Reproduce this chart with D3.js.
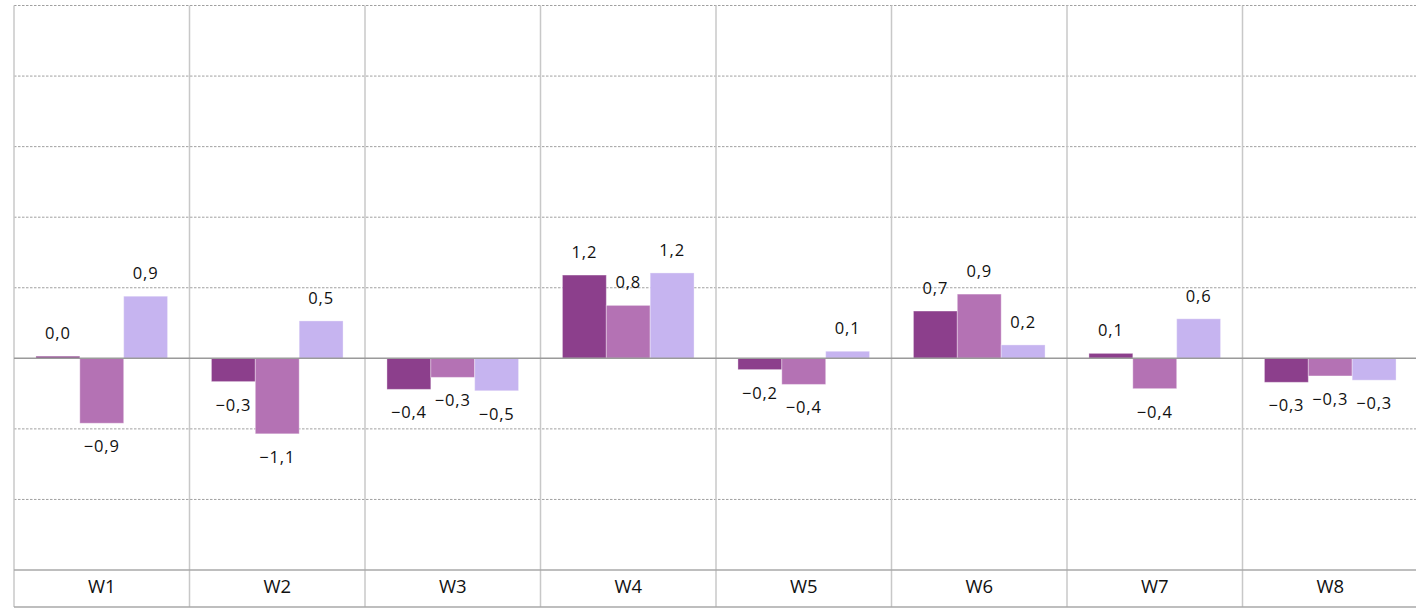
<!DOCTYPE html>
<html>
<head>
<meta charset="utf-8">
<script src="https://cdn.jsdelivr.net/npm/d3@7"></script>
<style>
  body { margin: 0; background: #fff; }
  svg { display: block; }
</style>
</head>
<body>
<svg id="chart" width="1416" height="609"></svg>
<script>
// Weekly deviations for three series
const weeks = ["W1", "W2", "W3", "W4", "W5", "W6", "W7", "W8"];
const seriesNames = ["A", "B", "C"];
const seriesA = [0.03, -0.33, -0.44, 1.18, -0.16, 0.67, 0.07, -0.34];
const seriesB = [-0.92, -1.07, -0.27, 0.75, -0.37, 0.91, -0.43, -0.25];
const seriesC = [0.88, 0.53, -0.46, 1.21, 0.10, 0.19, 0.56, -0.31];
const yTicks = [-3, -2, -1, 0, 1, 2, 3, 4, 5];
const colors = ["#8c3f8c", "#b472b4", "#c6b4f0"];

const W = 1416, H = 609;
const plotLeft = 14, plotRight = 1418, plotTop = 5.5, plotBottom = 570, tableBottom = 607;

const svg = d3.select("#chart");

const x = d3.scaleBand().domain(weeks).range([plotLeft, plotRight]).paddingInner(0).paddingOuter(0);
const xSub = d3.scaleBand().domain(seriesNames)
  .range([x.bandwidth() * 0.125, x.bandwidth() * 0.875]).padding(0);
const y = d3.scaleLinear().domain([yTicks[0], yTicks[yTicks.length - 1]]).range([plotBottom, plotTop]);

const rows = weeks.map((w, i) => ({
  week: w,
  values: [seriesA[i], seriesB[i], seriesC[i]].map((v, k) => ({ key: seriesNames[k], value: v, color: colors[k] }))
}));

// Horizontal gridlines (dashed), except the zero line and the table edge
svg.append("g").selectAll("line")
  .data(yTicks.filter(t => t !== 0 && t !== yTicks[0]))
  .join("line")
  .attr("x1", plotLeft).attr("x2", W)
  .attr("y1", d => y(d)).attr("y2", d => y(d))
  .attr("stroke", "#a0a0a0").attr("stroke-width", 1)
  .attr("stroke-dasharray", "2.5,1.5");

// Vertical category separators, running through the label row
svg.append("g").selectAll("line")
  .data(weeks.map(w => x(w)))
  .join("line")
  .attr("x1", d => d).attr("x2", d => d)
  .attr("y1", plotTop).attr("y2", tableBottom)
  .attr("stroke", "#c8c8c8").attr("stroke-width", 1.5);

// Bars
const groups = svg.append("g").selectAll("g")
  .data(rows).join("g")
  .attr("transform", d => `translate(${x(d.week)},0)`);

groups.selectAll("rect")
  .data(d => d.values).join("rect")
  .attr("x", d => xSub(d.key))
  .attr("width", xSub.bandwidth())
  .attr("y", d => Math.min(y(d.value), y(0)))
  .attr("height", d => Math.abs(y(d.value) - y(0)))
  .attr("fill", d => d.color)
  .attr("stroke", "rgba(255,255,255,0.35)")
  .attr("stroke-width", 1);

// Zero line
svg.append("line")
  .attr("x1", plotLeft).attr("x2", W)
  .attr("y1", y(0)).attr("y2", y(0))
  .attr("stroke", "#9a9a9a").attr("stroke-width", 1.5);

// Table row lines
svg.append("line")
  .attr("x1", plotLeft).attr("x2", W)
  .attr("y1", plotBottom).attr("y2", plotBottom)
  .attr("stroke", "#a8a8a8").attr("stroke-width", 1.5);
svg.append("line")
  .attr("x1", plotLeft).attr("x2", W)
  .attr("y1", tableBottom).attr("y2", tableBottom)
  .attr("stroke", "#a8a8a8").attr("stroke-width", 1.5);

// Value labels
const fmt = v => d3.format(".1f")(v).replace(".", ",");
groups.selectAll("text")
  .data(d => d.values).join("text")
  .attr("x", d => xSub(d.key) + xSub.bandwidth() / 2)
  .attr("y", d => d.value >= 0 ? y(d.value) - 17 : y(d.value) + 29)
  .attr("text-anchor", "middle")
  .attr("font-family", "'Open Sans', sans-serif")
  .attr("font-size", 16.5)
  .attr("letter-spacing", 0.8)
  .attr("fill", "#111")
  .text(d => fmt(d.value));

// Category labels
svg.append("g").selectAll("text")
  .data(weeks).join("text")
  .attr("x", d => x(d) + x.bandwidth() / 2)
  .attr("y", 593)
  .attr("text-anchor", "middle")
  .attr("font-family", "'Open Sans', sans-serif")
  .attr("font-size", 18.5)
  .attr("fill", "#111")
  .text(d => d);
</script>
</body>
</html>
